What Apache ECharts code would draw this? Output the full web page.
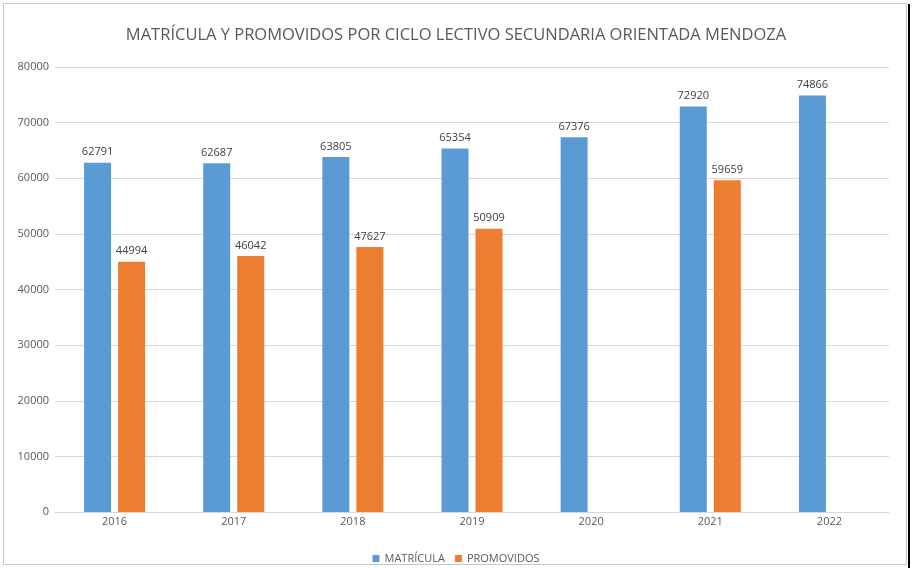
<!DOCTYPE html>
<html><head><meta charset="utf-8">
<script src="https://cdn.jsdelivr.net/npm/echarts@6/dist/echarts.min.js"></script>
<style>html,body{margin:0;padding:0;background:#fff}#c{width:912px;height:568px}</style>
</head><body><div id="c"></div>
<script>
const categories = ['2016','2017','2018','2019','2020','2021','2022'];
const matricula = [62791, 62687, 63805, 65354, 67376, 72920, 74866];
const promovidos = [44994, 46042, 47627, 50909, null, 59659, null];
const yTicks = [0, 10000, 20000, 30000, 40000, 50000, 60000, 70000, 80000];
const titleText = 'MATRÍCULA Y PROMOVIDOS POR CICLO LECTIVO SECUNDARIA ORIENTADA MENDOZA';
const FONT = '"Open Sans", "Liberation Sans", sans-serif';

const chart = echarts.init(document.getElementById('c'), null, {renderer: 'canvas'});
const labelStyle = {show: true, position: 'top', color: '#404040', fontSize: 11, fontFamily: FONT, distance: 5};
chart.setOption({
  animation: false,
  backgroundColor: '#fff',
  title: {
    text: titleText, left: 'center', top: 22,
    textStyle: {color: '#595959', fontSize: 16.5, fontWeight: 'normal', fontFamily: FONT}
  },
  legend: {
    top: 548, left: 'center', itemWidth: 7, itemHeight: 7, itemGap: 10,
    icon: 'rect',
    textStyle: {color: '#595959', fontSize: 11, fontFamily: FONT},
    data: ['MATRÍCULA', 'PROMOVIDOS']
  },
  grid: {left: 55, right: 23, top: 67, bottom: 56, containLabel: false},
  xAxis: {
    type: 'category', data: categories,
    axisLine: {lineStyle: {color: '#d9d9d9'}},
    axisTick: {show: false},
    axisLabel: {color: '#595959', fontSize: 11, fontFamily: FONT, margin: 4}
  },
  yAxis: {
    type: 'value', min: yTicks[0], max: yTicks[yTicks.length-1], interval: 10000,
    axisLine: {show: false}, axisTick: {show: false},
    axisLabel: {color: '#595959', fontSize: 11, fontFamily: FONT, margin: 6, formatter: v => String(v)},
    splitLine: {lineStyle: {color: '#d9d9d9'}}
  },
  series: [
    {name: 'MATRÍCULA', type: 'bar', data: matricula, barWidth: 27, barGap: '26%',
     itemStyle: {color: '#5b9bd5'}, label: labelStyle},
    {name: 'PROMOVIDOS', type: 'bar', data: promovidos, barWidth: 27,
     itemStyle: {color: '#ed7d31'}, label: labelStyle}
  ],
  graphic: [
    {type: 'rect', shape: {x: 3.5, y: 3.5, width: 903, height: 561}, style: {fill: null, stroke: '#c8c8c8', lineWidth: 1}, silent: true},
    {type: 'line', shape: {x1: 909, y1: 4, x2: 909, y2: 568}, style: {stroke: '#000', lineWidth: 2}, silent: true}
  ]
});
</script></body></html>
